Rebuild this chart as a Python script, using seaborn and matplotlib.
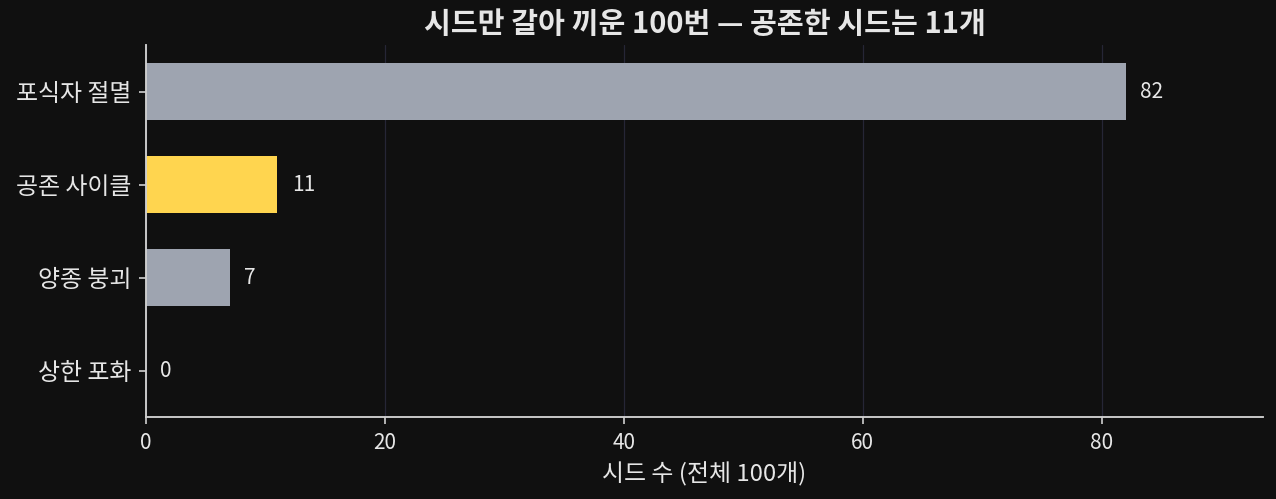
import matplotlib
matplotlib.use("Agg")
import matplotlib.pyplot as plt
import pandas as pd
import seaborn as sns

categories = ["포식자 절멸", "공존 사이클", "양종 붕괴", "상한 포화"]
counts = [82, 11, 7, 0]
bar_colors = ["#9ea4b0", "#ffd54f", "#9ea4b0", "#9ea4b0"]

BG = "#101010"
FG = "#e6e6e6"

sns.set_theme(style="dark")
plt.rcParams["font.family"] = ["Noto Sans CJK KR", "DejaVu Sans"]
plt.rcParams["axes.unicode_minus"] = False

df = pd.DataFrame({"outcome": categories, "count": counts})

fig = plt.figure(figsize=(1276 / 150, 499 / 150), dpi=150, facecolor=BG)
ax = fig.add_axes([0.1144, 0.1643, 0.8754, 0.7455])
ax.set_facecolor(BG)

sns.barplot(
    data=df, x="count", y="outcome", hue="outcome",
    palette=bar_colors, width=0.62, legend=False, ax=ax, saturation=1,
    linewidth=0,
)

for i, v in enumerate(counts):
    ax.text(v + 1.2, i, f"{v}", va="center", ha="left", color=FG, fontsize=10)

ax.set_xlim(0, 93.5)
ax.set_ylim(3.5, -0.5)
ax.xaxis.grid(True, color="#262636", linewidth=0.6)
ax.yaxis.grid(False)
ax.set_axisbelow(True)

for side in ["top", "right"]:
    ax.spines[side].set_visible(False)
for side in ["left", "bottom"]:
    ax.spines[side].set_color("#cfcfcf")
    ax.spines[side].set_linewidth(0.9)

ax.tick_params(axis="both", colors="#cfcfcf", labelcolor=FG,
               length=3.5, width=0.8, pad=3.5, bottom=True, left=True)
ax.tick_params(axis="y", labelsize=11.5)
ax.tick_params(axis="x", labelsize=10)
ax.set_xticks([0, 20, 40, 60, 80])
ax.set_ylabel("")
ax.set_xlabel("시드 수 (전체 100개)", color=FG, fontsize=11.5, labelpad=4)
ax.set_title("시드만 갈아 끼운 100번 — 공존한 시드는 11개", color=FG,
             fontsize=14, fontweight="bold", pad=6)

fig.savefig("out.png", dpi=150, facecolor=BG)
